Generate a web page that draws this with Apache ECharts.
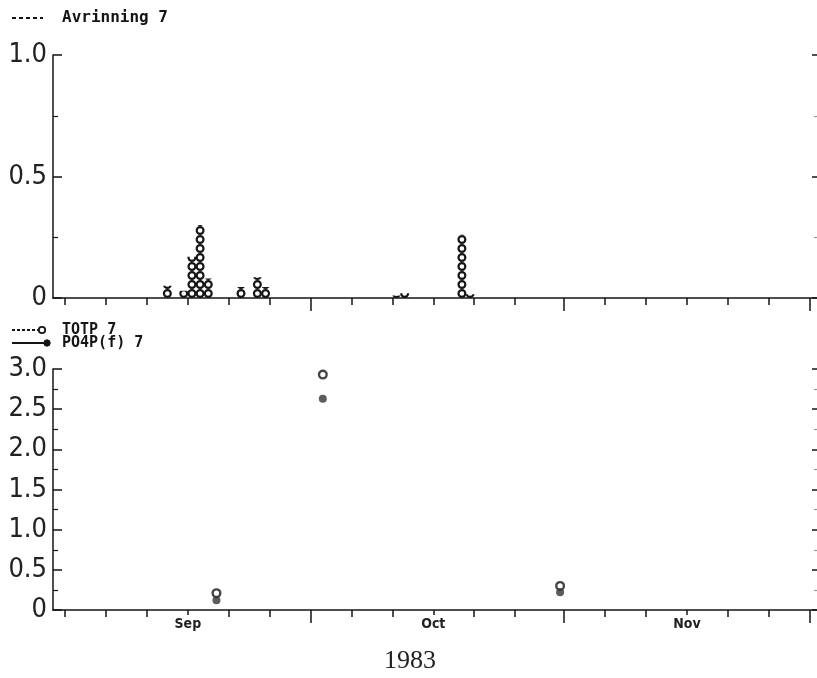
<!DOCTYPE html>
<html>
<head>
<meta charset="utf-8">
<script src="https://cdn.jsdelivr.net/npm/echarts@6/dist/echarts.min.js"></script>
<style>
html,body{margin:0;padding:0;background:#fff;}
#c{width:817px;height:678px;}
</style>
</head>
<body>
<div id="c"></div>
<script>
// Days counted from 17 Aug 1983 (day 0)
const runoffDays   = [12, 14, 15, 16, 17, 21, 23, 24, 40, 41, 48, 49];
const runoffValues = [0.05, 0.03, 0.17, 0.30, 0.08, 0.045, 0.085, 0.045, 0.01, 0.02, 0.26, 0.015];

const sampleDays = [18, 31, 60];
const totpValues = [0.21, 2.93, 0.30];
const po4Values  = [0.12, 2.63, 0.22];

const monthDays   = [15, 45, 76];
const monthNames  = ['Sep', 'Oct', 'Nov'];
const regularTickDays = [0, 5, 10, 20, 25, 35, 40, 50, 55, 66, 71, 81, 86];
const midTickDays = [30, 61, 91];
const xMin = -1.48, xMax = 91.9;

const INK = '#151515';
const fmt = v => (v === 0 ? '0' : v.toFixed(1));
const RING = 'path://M5,0A5,5,0,1,1,5,10A5,5,0,1,1,5,0ZM5,2.4A2.6,2.6,0,1,0,5,7.6A2.6,2.6,0,1,0,5,2.4Z';

function xAx(grid, ticks, len, opts) {
  return Object.assign({
    type: 'value', gridIndex: grid, min: xMin, max: xMax, position: 'bottom', offset: 0,
    axisLine: { show: false, onZero: false },
    axisTick: { show: true, customValues: ticks, length: len, lineStyle: { color: INK, width: 1.5 } },
    axisLabel: { show: false },
    splitLine: { show: false }
  }, opts || {});
}
function yAx(grid, max, pos, lbl) {
  const right = pos === 'right';
  return {
    type: 'value', gridIndex: grid, min: 0, max: max, interval: 0.5, position: pos, offset: 0,
    axisLine: { show: !right, onZero: false, lineStyle: { color: INK, width: 1.5 } },
    axisTick: { show: true, inside: true, length: right ? 5 : 9, lineStyle: { color: INK, width: 1.5 } },
    minorTick: { show: true, splitNumber: 2, length: right ? 3 : 5, lineStyle: { color: right ? '#999' : INK, width: 1.2 } },
    axisLabel: { show: lbl, margin: 6, formatter: fmt, fontSize: 27,
      fontFamily: "'Liberation Sans Narrow', 'DejaVu Sans Condensed', sans-serif", color: '#222' },
    splitLine: { show: false }
  };
}
const mainLine = { show: true, onZero: false, lineStyle: { color: INK, width: 1.5 } };

const chart = echarts.init(document.getElementById('c'), null, { renderer: 'canvas' });
chart.setOption({
  animation: false,
  backgroundColor: '#fff',
  grid: [
    { left: 53, top: 55, width: 765, height: 243 },
    { left: 53, top: 369, width: 765, height: 241 }
  ],
  xAxis: [
    xAx(0, regularTickDays.concat(monthDays), 7, { axisLine: mainLine }),
    xAx(0, midTickDays, 13),
    xAx(1, regularTickDays, 7, { axisLine: mainLine }),
    xAx(1, midTickDays, 13),
    xAx(1, monthDays, 5, {
      axisLabel: { show: true, customValues: monthDays, margin: 7,
        formatter: v => monthNames[monthDays.indexOf(Math.round(v))] || '',
        fontSize: 14, fontWeight: 'bold', fontFamily: "'DejaVu Sans Condensed', sans-serif", color: '#222' }
    })
  ],
  yAxis: [
    yAx(0, 1.0, 'left', true),
    yAx(0, 1.0, 'right', false),
    yAx(1, 3.0, 'left', true),
    yAx(1, 3.0, 'right', false)
  ],
  series: [
    {
      type: 'pictorialBar', name: 'Avrinning 7', xAxisIndex: 0, yAxisIndex: 0,
      data: runoffDays.map((d, i) => [d + 0.5, runoffValues[i]]),
      symbol: RING, symbolSize: [9, 9], symbolRepeat: true, symbolMargin: 0, symbolClip: true,
      symbolPosition: 'start',
      itemStyle: { color: INK },
      z: 5
    },
    {
      type: 'scatter', name: 'TOTP 7', xAxisIndex: 2, yAxisIndex: 2,
      data: sampleDays.map((d, i) => [d + 0.5, totpValues[i]]),
      symbol: RING, symbolSize: 10,
      itemStyle: { color: INK }, z: 5
    },
    {
      type: 'scatter', name: 'PO4P(f) 7', xAxisIndex: 2, yAxisIndex: 2,
      data: sampleDays.map((d, i) => [d + 0.5, po4Values[i]]),
      symbol: 'circle', symbolSize: 8,
      itemStyle: { color: '#333' }, z: 6
    }
  ],
  graphic: [
    { type: 'line', shape: { x1: 12, y1: 18, x2: 43, y2: 18 }, style: { stroke: INK, lineWidth: 2, lineDash: [4, 3] } },
    { type: 'text', x: 62, y: 18, style: { text: 'Avrinning 7', fill: INK, font: "bold 16px 'DejaVu Sans Mono', monospace", textVerticalAlign: 'middle' } },
    { type: 'line', shape: { x1: 12, y1: 330, x2: 39, y2: 330 }, style: { stroke: INK, lineWidth: 1.8, lineDash: [3, 2] } },
    { type: 'circle', shape: { cx: 42, cy: 330, r: 3.2 }, style: { fill: '#fff', stroke: INK, lineWidth: 1.8 } },
    { type: 'text', x: 62, y: 330, style: { text: 'TOTP 7', fill: INK, font: "bold 15px 'DejaVu Sans Mono', monospace", textVerticalAlign: 'middle' } },
    { type: 'line', shape: { x1: 12, y1: 343, x2: 45, y2: 343 }, style: { stroke: INK, lineWidth: 1.8 } },
    { type: 'circle', shape: { cx: 47, cy: 343, r: 3.2 }, style: { fill: INK, stroke: INK, lineWidth: 1 } },
    { type: 'text', x: 62, y: 343, style: { text: 'PO4P(f) 7', fill: INK, font: "bold 15px 'DejaVu Sans Mono', monospace", textVerticalAlign: 'middle' } },
    { type: 'text', x: 410, y: 661, style: { text: '1983', fill: '#222', font: "26px 'Liberation Serif', serif", textAlign: 'center', textVerticalAlign: 'middle' } }
  ]
});
</script>
</body>
</html>
